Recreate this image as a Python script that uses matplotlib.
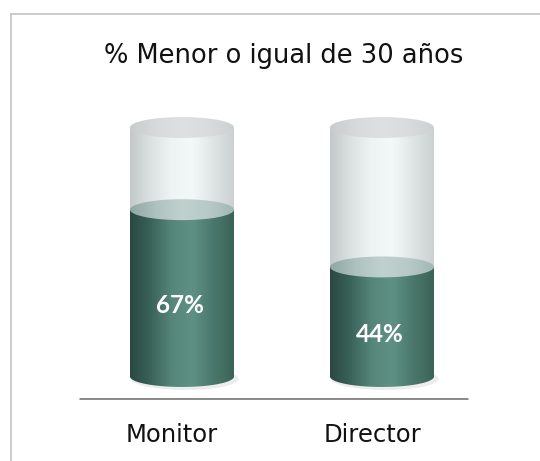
import numpy as np
import matplotlib
matplotlib.use('Agg')
import matplotlib.pyplot as plt
from matplotlib.patches import Ellipse, Rectangle, Polygon
from matplotlib.colors import LinearSegmentedColormap
from matplotlib.lines import Line2D

# data
categories = ['Monitor', 'Director']
values = [67, 44]
value_labels = ['67%', '44%']
title = '% Menor o igual de 30 años'

# colours
green_cmap = LinearSegmentedColormap.from_list(
    'green', ['#2a4841', '#3a6359', '#568679', '#5e9184', '#4b786c', '#3b6357'])
glass_cmap = LinearSegmentedColormap.from_list(
    'glass', ['#c3c8c8', '#dce1e1', '#eef3f3', '#f3f8f8', '#dfe4e4', '#cbd0d0'])
lid_cmap = LinearSegmentedColormap.from_list(
    'lid', ['#c8cccc', '#d6dada', '#dde1e1', '#d8dcdc', '#cdd1d1'])
surf_cmap = LinearSegmentedColormap.from_list(
    'surf', ['#8fa7a2', '#aec2be', '#c0d1ce', '#b8cac7', '#a2b8b3'])

fig = plt.figure(figsize=(5.4, 4.61), dpi=100)
ax = fig.add_axes([0, 61 / 461, 1, 300 / 461])

width = 0.52
ell_h = 8.4
base_y = -9.1
grad = np.linspace(0, 1, 256)[None, :]


def shade(patch, cmap, x0, x1, y0, y1, z):
    patch.set_transform(ax.transData)
    im = ax.imshow(grad, cmap=cmap, extent=[x0, x1, y0, y1],
                   aspect='auto', zorder=z, interpolation='bilinear')
    im.set_clip_path(patch)


x = np.arange(len(categories))
t = np.linspace(0, np.pi, 60)
for i, (cx, v) in enumerate(zip(x, values)):
    x0, x1 = cx - width / 2, cx + width / 2
    # soft shadow under the cylinder
    ax.add_patch(Ellipse((cx + 0.015, -1.0), width * 1.03, ell_h * 1.05,
                         facecolor='#ececec', edgecolor='none', zorder=1))
    # glass part
    glass = Rectangle((x0, v), width, 100 - v)
    shade(glass, glass_cmap, x0, x1, v, 100, 2)
    lid = Ellipse((cx, 100), width, ell_h)
    shade(lid, lid_cmap, x0, x1, 100 - ell_h, 100 + ell_h, 3)
    # green body with rounded bottom
    bx = cx + width / 2 * np.cos(t)
    by = -ell_h / 2 * np.sin(t)
    pts = np.column_stack([np.r_[x1, bx, x0], np.r_[v, by, v]])
    body = Polygon(pts, closed=True)
    shade(body, green_cmap, x0, x1, -ell_h, v, 4)
    surf = Ellipse((cx, v), width, ell_h)
    shade(surf, surf_cmap, x0, x1, v - ell_h, v + ell_h, 5)
    ax.text(cx - 0.01, v / 2 - 5, value_labels[i], ha='center', va='center',
            color='white', fontsize=17.5, fontweight='bold', family='Lato',
            zorder=6)
    # category label, a little left of the cylinder centre
    ax.text(cx - 0.05, base_y - 9.6, categories[i], ha='center', va='top',
            fontsize=17.5, color='#111111')

ax.plot([-0.5175, 1.4275], [base_y, base_y], color='#8c8c8c', lw=2.2,
        solid_capstyle='butt', zorder=7)

ax.set_xlim(-182 / 200, (540 - 182) / 200)
ax.set_ylim(-23.5 / 2.49, 100 + 27.5 / 2.49)
ax.set_xticks([])
ax.set_yticks([])
for s in ax.spines.values():
    s.set_visible(False)
ax.patch.set_alpha(0)

fig.text(284 / 540, 1 - 56 / 461, title, ha='center', va='center',
         fontsize=18.5, color='#111111')

fig.add_artist(Line2D([10.5 / 540, 10.5 / 540], [0, 1 - 14 / 461],
                      color='#c4c4c4', lw=1.2))
fig.add_artist(Line2D([10.5 / 540, 1], [1 - 14 / 461, 1 - 14 / 461],
                      color='#c4c4c4', lw=1.2))

fig.savefig('out.png', dpi=100)
